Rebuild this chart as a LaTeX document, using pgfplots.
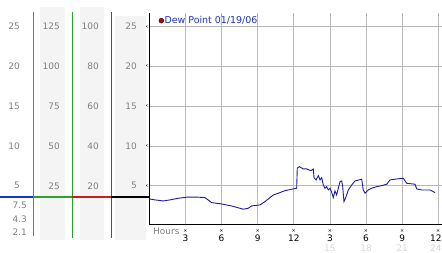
\documentclass[border=0pt]{standalone}
\usepackage{fontspec}
\setmainfont{DejaVu Sans}
\usepackage{pgfplots}
\pgfplotsset{compat=1.18}
\definecolor{labgray}{RGB}{128,128,128}
\definecolor{vlight}{RGB}{215,215,215}
\definecolor{gridgray}{RGB}{185,185,185}
\definecolor{bandgray}{RGB}{244,244,244}
\definecolor{dataline}{RGB}{28,28,160}
\definecolor{legblue}{RGB}{30,50,190}
\definecolor{dewred}{RGB}{150,20,20}
\definecolor{dewdark}{RGB}{90,10,10}
\definecolor{vblue}{RGB}{40,140,200}
\definecolor{hblue}{RGB}{20,50,210}
\definecolor{cgreen}{RGB}{40,165,40}
\definecolor{cred}{RGB}{205,30,30}
\newcommand{\tx}{{\fontsize{5}{5}\selectfont ×}}
\newcommand{\lgt}[1]{\textcolor{vlight}{#1}}
\tikzset{clab/.style={anchor=east, inner sep=0pt, text=labgray, font=\fontsize{9}{9}\selectfont}}
\begin{document}
\begin{tikzpicture}
\begin{axis}[
  scale only axis, width=292.6bp, height=211.3bp,
  xmin=0, xmax=24.3, ymin=0.15, ymax=26.7,
  axis x line=bottom, axis y line=left,
  axis line style={-, black, line width=1bp},
  xtick={3,6,...,24}, ytick={5,10,...,25},
  major tick length=0pt,
  grid=major, major grid style={draw=gridgray, line width=0.8bp},
  clip=false,
  xticklabels={{\tx\\3},{\tx\\6},{\tx\\9},{\tx\\12},{\tx\\3\\\lgt{15}},{\tx\\6\\\lgt{18}},{\tx\\9\\\lgt{21}},{\tx\\\hspace*{-5bp}12\\\hspace*{-5bp}\lgt{24}}},
  xticklabel style={anchor=north, inner sep=0pt, yshift=-5bp, align=center, font=\fontsize{9}{9.5}\selectfont},
  yticklabels={\tx,\tx,\tx,\tx,\tx},
  yticklabel style={anchor=east, inner sep=0pt, xshift=-0.5bp, font=\fontsize{9}{9}\selectfont},
  legend style={at={(axis cs:0.78,25.74)}, anchor=west, draw=none, fill=none, inner sep=0pt, outer sep=0pt,
    font=\fontsize{9.5}{10}\selectfont, text=legblue, nodes={inner sep=0.5bp}},
  legend cell align=left,
  legend image code/.code={\fill[dewred, draw=dewdark, line width=0.6bp] (0.25cm,0) circle (2.4bp);},
]
% background bands
\fill[bandgray] (axis cs:-9.08,-1.81) rectangle (axis cs:-7.0,27.46);
\fill[bandgray] (axis cs:-5.76,-1.81) rectangle (axis cs:-3.76,27.46);
\fill[bandgray] (axis cs:-2.85,-1.81) rectangle (axis cs:-0.27,26.33);
% vertical scale lines
\draw[vblue, line width=0.9bp] (axis cs:-9.63,-1.31) -- (axis cs:-9.63,26.83);
\draw[cgreen, line width=0.9bp] (axis cs:-6.40,-1.56) -- (axis cs:-6.40,26.83);
\draw[cred, line width=0.9bp] (axis cs:-3.16,-1.56) -- (axis cs:-3.16,26.83);
% horizontal current-value line
\draw[hblue, line width=2bp] (axis cs:-12.40,3.59) -- (axis cs:-9.63,3.59);
\draw[cgreen, line width=2bp] (axis cs:-9.63,3.59) -- (axis cs:-6.40,3.59);
\draw[cred, line width=2bp] (axis cs:-6.40,3.59) -- (axis cs:-3.16,3.59);
\draw[black, line width=2bp] (axis cs:-3.16,3.59) -- (axis cs:0,3.59);
% column labels
\node[clab] at (axis cs:-10.74,25) {25};
\node[clab] at (axis cs:-10.74,20) {20};
\node[clab] at (axis cs:-10.74,15) {15};
\node[clab] at (axis cs:-10.74,10) {10};
\node[clab] at (axis cs:-10.74,5) {5};
\node[clab] at (axis cs:-7.42,25) {125};
\node[clab] at (axis cs:-7.42,20) {100};
\node[clab] at (axis cs:-7.42,15) {75};
\node[clab] at (axis cs:-7.42,10) {50};
\node[clab] at (axis cs:-7.42,5) {25};
\node[clab] at (axis cs:-4.18,25) {100};
\node[clab] at (axis cs:-4.18,20) {80};
\node[clab] at (axis cs:-4.18,15) {60};
\node[clab] at (axis cs:-4.18,10) {40};
\node[clab] at (axis cs:-4.18,5) {20};
\node[clab] at (axis cs:-1.02,25) {25};
\node[clab] at (axis cs:-1.02,20) {20};
\node[clab] at (axis cs:-1.02,15) {15};
\node[clab] at (axis cs:-1.02,10) {10};
\node[clab] at (axis cs:-1.02,5) {5};
\node[clab] at (axis cs:-10.16,2.59) {7.5};
\node[clab] at (axis cs:-10.16,0.83) {4.3};
\node[clab] at (axis cs:-10.16,-0.80) {2.1};
\node[clab, anchor=west] at (axis cs:0.31,-0.77) {Hours};
% data
\addplot[dataline, line width=0.9bp] table {
0.0 3.34
0.47 3.22
1.16 3.09
1.72 3.22
2.41 3.43
3.11 3.56
4.07 3.56
4.63 3.51
5.18 2.88
6.01 2.71
6.84 2.46
7.81 2.05
8.22 2.17
8.5 2.46
9.19 2.59
9.6 3.0
10.3 3.84
10.71 4.06
11.27 4.38
11.83 4.56
12.24 4.69
12.29 7.2
12.46 7.4
12.79 7.11
13.07 7.11
13.41 6.9
13.62 7.11
13.68 6.02
13.85 5.73
14.04 6.27
14.18 5.73
14.32 6.02
14.45 5.1
14.59 4.69
14.73 4.89
14.87 4.47
15.01 4.69
15.15 4.18
15.28 3.5
15.42 4.35
15.56 3.84
15.7 4.69
15.84 5.52
15.98 5.6
16.06 4.89
16.17 3.0
16.34 3.63
16.53 4.47
16.81 5.1
17.08 5.6
17.64 5.82
17.77 4.47
17.92 4.06
18.19 4.47
18.47 4.69
18.89 4.89
19.3 5.01
19.72 5.19
19.99 5.73
20.55 5.85
21.1 5.94
21.38 5.31
22.07 5.19
22.21 4.6
22.62 4.47
23.31 4.47
23.59 4.26
23.73 4.13
};
\addlegendentry{Dew Point 01/19/06}
\coordinate (bl) at (axis cs:-12.40,-3.44);
\coordinate (tr) at (axis cs:24.31,28.34);
\end{axis}
\pgfresetboundingbox
\path[use as bounding box] (bl) rectangle (tr);
\end{tikzpicture}
\end{document}
